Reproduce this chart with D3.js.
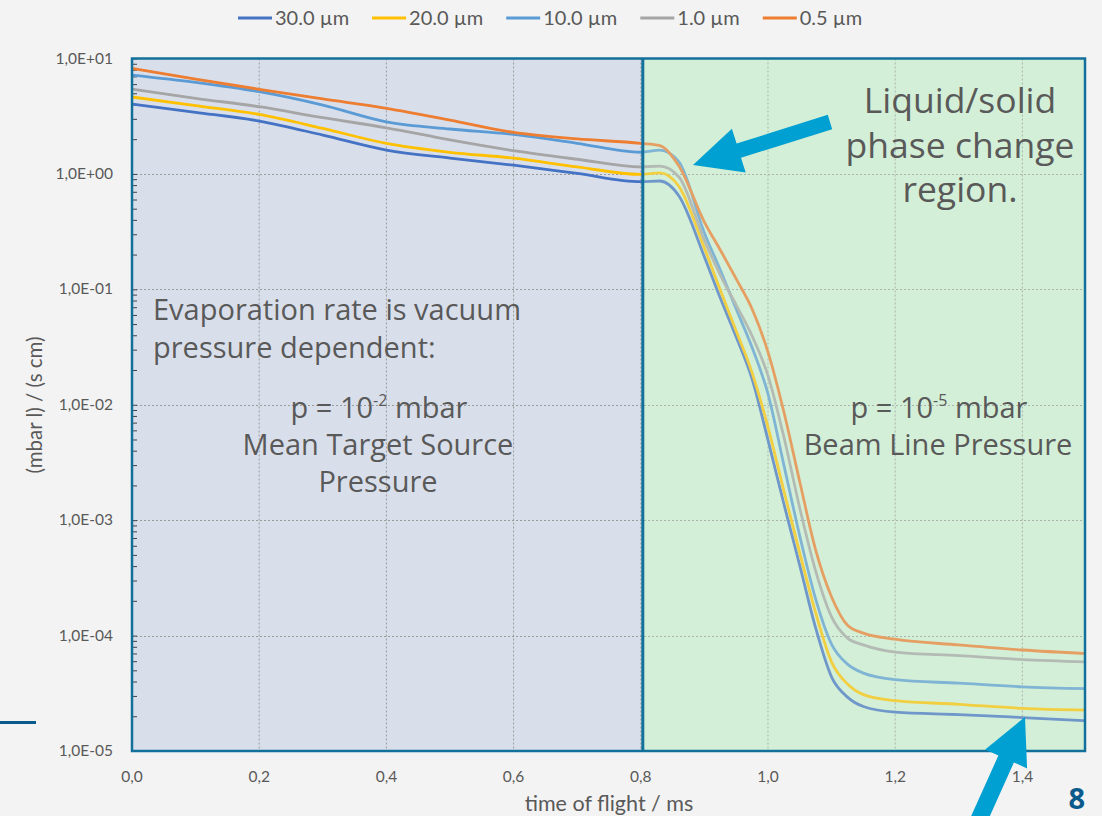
<!DOCTYPE html>
<html>
<head>
<meta charset="utf-8">
<script src="https://cdn.jsdelivr.net/npm/d3@7"></script>
<style>
  html, body { margin: 0; padding: 0; background: #f3f3f3; }
  svg { display: block; }
</style>
</head>
<body>
<svg id="chart" width="1102" height="816"></svg>
<script>
// Time of flight grid (ms)
const timeMs = [0, 0.1, 0.2, 0.3, 0.4, 0.5, 0.6, 0.7, 0.8, 0.83, 0.86, 0.9, 0.925, 0.95, 0.975,
                1.0, 1.025, 1.05, 1.075, 1.1, 1.125, 1.15, 1.2, 1.3, 1.4, 1.5];

// Evaporation rate, (mbar l) / (s cm), per droplet diameter
const rate30um = [4.03, 3.42, 2.87, 2.17, 1.61, 1.37, 1.19, 1.01, 0.856, 0.868, 0.643, 0.191, 0.0841, 0.0386, 0.0167,
                  0.00494, 0.00138, 4.04e-4, 1.16e-4, 4.37e-5, 2.93e-5, 2.43e-5, 2.17e-5, 2.07e-5, 1.95e-5, 1.83e-5];
const rate20um = [4.64, 3.90, 3.28, 2.48, 1.84, 1.54, 1.37, 1.15, 0.99, 1.02, 0.778, 0.228, 0.0986, 0.0435, 0.0189,
                  0.00641, 0.00179, 5.19e-4, 1.57e-4, 5.89e-5, 3.8e-5, 3.08e-5, 2.73e-5, 2.54e-5, 2.34e-5, 2.26e-5];
const rate10um = [7.19, 6.22, 5.16, 3.95, 2.83, 2.45, 2.20, 1.84, 1.54, 1.61, 1.27, 0.308, 0.147, 0.0675, 0.0313,
                  0.0124, 0.0030, 7.28e-4, 2.07e-4, 8.4e-5, 5.66e-5, 4.73e-5, 4.16e-5, 3.87e-5, 3.6e-5, 3.47e-5];
const rate1um  = [5.44, 4.52, 3.82, 3.07, 2.51, 1.97, 1.59, 1.34, 1.15, 1.17, 0.94, 0.267, 0.133, 0.0731, 0.0394,
                  0.0179, 0.00525, 0.00127, 3.62e-4, 1.45e-4, 9.5e-5, 8.3e-5, 7.2e-5, 6.7e-5, 6.2e-5, 5.93e-5];
const rate05um = [8.22, 6.64, 5.41, 4.46, 3.70, 2.93, 2.29, 2.01, 1.84, 1.76, 1.17, 0.383, 0.219, 0.123, 0.0675,
                  0.0286, 0.00865, 0.00214, 5.5e-4, 2.16e-4, 1.23e-4, 1.05e-4, 9.3e-5, 8.3e-5, 7.5e-5, 6.98e-5];

const seriesNames  = ["30.0 µm", "20.0 µm", "10.0 µm", "1.0 µm", "0.5 µm"];
const seriesValues = [rate30um, rate20um, rate10um, rate1um, rate05um];
const seriesColors = ["#4472C4", "#FFC000", "#5B9BD5", "#A5A5A5", "#ED7D31"];

const xTickValues = [0, 0.2, 0.4, 0.6, 0.8, 1.0, 1.2, 1.4];
const xTickLabels = ["0,0", "0,2", "0,4", "0,6", "0,8", "1,0", "1,2", "1,4"];
const yTickValues = [1e-5, 1e-4, 1e-3, 1e-2, 1e-1, 1e0, 1e1];
const yTickLabels = ["1,0E-05", "1,0E-04", "1,0E-03", "1,0E-02", "1,0E-01", "1,0E+00", "1,0E+01"];

const phaseBoundary = 0.8;   // ms, droplet leaves the target source
const xDomain = [0, 1.5];
const yDomain = [1e-5, 10];

// ---------------------------------------------------------------
const svg = d3.select("#chart");
const W = 1102, H = 816;
const plot = { left: 132, right: 1086, top: 58.5, bottom: 751 };
const textColor = "#595959";
const frameColor = "#13709a";
const tickFont = "Lato, 'Open Sans', sans-serif";
const noteFont = "'Open Sans', 'Noto Sans', sans-serif";

svg.append("rect").attr("width", W).attr("height", H).attr("fill", "#f3f3f3");

const x = d3.scaleLinear().domain(xDomain).range([plot.left, plot.right]);
const y = d3.scaleLog().domain(yDomain).range([plot.bottom, plot.top]);

const xSplit = x(phaseBoundary) + 2;

// Region backgrounds
svg.append("rect")
  .attr("x", plot.left).attr("y", plot.top)
  .attr("width", xSplit - plot.left).attr("height", plot.bottom - plot.top)
  .attr("fill", "#d9dfea");
svg.append("rect")
  .attr("x", xSplit).attr("y", plot.top)
  .attr("width", plot.right - xSplit).attr("height", plot.bottom - plot.top)
  .attr("fill", "#d4f0d7");

// Dotted grid
const grid = svg.append("g").attr("stroke", "#9a9a9a").attr("stroke-width", 1)
  .attr("stroke-dasharray", "2,2");
grid.selectAll("line.v").data(xTickValues.filter(v => v > 0)).join("line")
  .attr("x1", d => x(d)).attr("x2", d => x(d))
  .attr("y1", plot.top).attr("y2", plot.bottom);
grid.selectAll("line.h").data(yTickValues.filter(v => v > yDomain[0] && v < yDomain[1])).join("line")
  .attr("x1", plot.left).attr("x2", plot.right)
  .attr("y1", d => Math.round(y(d)) + 0.5).attr("y2", d => Math.round(y(d)) + 0.5);

// Y axis ticks (major + log minor), pointing into the plot
const yAxis = d3.axisRight(y)
  .tickValues(d3.range(-5, 1).flatMap(e => d3.range(1, 10).map(k => k * Math.pow(10, e))).concat([10]))
  .tickSize(5).tickFormat("");
const yAxisG = svg.append("g").attr("transform", `translate(${plot.left},0)`).call(yAxis);
yAxisG.select(".domain").remove();
yAxisG.selectAll(".tick line").attr("stroke", "#404040");

// Series lines
const line = d3.line()
  .x((d, i) => x(timeMs[i]))
  .y(d => y(d))
  .curve(d3.curveMonotoneX);

const linesG = svg.append("g");
seriesValues.forEach((vals, s) => {
  linesG.append("path")
    .datum(vals)
    .attr("d", line)
    .attr("fill", "none")
    .attr("stroke", seriesColors[s])
    .attr("stroke-width", 2.8)
    .attr("stroke-linejoin", "round");
});

// Translucent tint over the beam line region
svg.append("rect")
  .attr("x", xSplit).attr("y", plot.top)
  .attr("width", plot.right - xSplit).attr("height", plot.bottom - plot.top)
  .attr("fill", "#d4f0d7").attr("opacity", 0.3);

// Frame and region divider
svg.append("rect")
  .attr("x", plot.left).attr("y", plot.top)
  .attr("width", plot.right - plot.left - 1).attr("height", plot.bottom - plot.top)
  .attr("fill", "none").attr("stroke", frameColor).attr("stroke-width", 2.5);
svg.append("line")
  .attr("x1", xSplit).attr("x2", xSplit)
  .attr("y1", plot.top).attr("y2", plot.bottom)
  .attr("stroke", frameColor).attr("stroke-width", 3);

// Tick labels
svg.append("g").selectAll("text").data(yTickValues).join("text")
  .attr("x", 113).attr("y", d => y(d) + 5)
  .attr("text-anchor", "end")
  .attr("font-family", tickFont).attr("font-size", 15.5).attr("fill", textColor)
  .text((d, i) => yTickLabels[i]);
svg.append("g").selectAll("text").data(xTickValues).join("text")
  .attr("x", d => x(d)).attr("y", 782)
  .attr("text-anchor", "middle")
  .attr("font-family", tickFont).attr("font-size", 15.5).attr("fill", textColor)
  .text((d, i) => xTickLabels[i]);

// Axis titles
svg.append("text")
  .attr("x", 609).attr("y", 811)
  .attr("text-anchor", "middle")
  .attr("font-family", tickFont).attr("font-size", 21.5).attr("fill", textColor)
  .text("time of flight / ms");
svg.append("text")
  .attr("transform", "translate(42,405) rotate(-90)")
  .attr("text-anchor", "middle")
  .attr("font-family", tickFont).attr("font-size", 20.5).attr("fill", textColor)
  .text("(mbar l) / (s cm)");

// Legend
const legend = svg.append("g").attr("font-family", tickFont).attr("font-size", 20).attr("fill", textColor);
let lx = 238;
seriesNames.forEach((name, s) => {
  legend.append("line")
    .attr("x1", lx).attr("x2", lx + 34).attr("y1", 18).attr("y2", 18)
    .attr("stroke", seriesColors[s]).attr("stroke-width", 2.8);
  const t = legend.append("text").attr("x", lx + 37).attr("y", 25).text(name);
  lx += 37 + t.node().getComputedTextLength() + 23;
});

// Annotation text
const notes = svg.append("g").attr("font-family", noteFont).attr("fill", textColor);
function noteLines(lines, xPos, y0, dy, size, anchor) {
  lines.forEach((ln, i) => {
    notes.append("text").attr("x", xPos).attr("y", y0 + i * dy)
      .attr("font-size", size).attr("text-anchor", anchor).text(ln);
  });
}
noteLines(["Liquid/solid", "phase change", "region."], 960, 113, 44.5, 35.5, "middle");
noteLines(["Evaporation rate is vacuum", "pressure dependent:"], 153, 320, 38, 29, "start");

function pressureLine(xPos, yPos, exp) {
  const t = notes.append("text").attr("x", xPos).attr("y", yPos)
    .attr("font-size", 29).attr("text-anchor", "middle");
  t.append("tspan").text("p = 10");
  t.append("tspan").attr("dy", -12).attr("font-size", 16).text(exp);
  t.append("tspan").attr("dy", 12).text(" mbar");
}
pressureLine(379, 418, "-2");
noteLines(["Mean Target Source", "Pressure"], 378, 455, 37, 29, "middle");
pressureLine(939, 418, "-5");
noteLines(["Beam Line Pressure"], 938, 455, 37, 29, "middle");

// Pointer arrows
function arrowPath(tail, tip, shaftW, headL, headW) {
  const dx = tip[0] - tail[0], dy = tip[1] - tail[1];
  const len = Math.hypot(dx, dy);
  const ux = dx / len, uy = dy / len, nx = -uy, ny = ux;
  const bx = tip[0] - ux * headL, by = tip[1] - uy * headL;
  const p = (px, py) => `${px.toFixed(1)},${py.toFixed(1)}`;
  return "M" + [
    p(tail[0] + nx * shaftW / 2, tail[1] + ny * shaftW / 2),
    p(bx + nx * shaftW / 2, by + ny * shaftW / 2),
    p(bx + nx * headW / 2, by + ny * headW / 2),
    p(tip[0], tip[1]),
    p(bx - nx * headW / 2, by - ny * headW / 2),
    p(bx - nx * shaftW / 2, by - ny * shaftW / 2),
    p(tail[0] - nx * shaftW / 2, tail[1] - ny * shaftW / 2)
  ].join("L") + "Z";
}
svg.append("path").attr("d", arrowPath([830, 122], [693, 165], 15, 48, 46)).attr("fill", "#00a0d2");
svg.append("path").attr("d", arrowPath([972, 835], [1025, 717], 17, 46, 46)).attr("fill", "#00a0d2");

// Page furniture
svg.append("line").attr("x1", 0).attr("x2", 36).attr("y1", 722.5).attr("y2", 722.5)
  .attr("stroke", "#0b5a8c").attr("stroke-width", 3);
svg.append("text").attr("x", 1085).attr("y", 809)
  .attr("text-anchor", "end").attr("font-family", noteFont).attr("font-weight", "bold")
  .attr("font-size", 29).attr("fill", "#0b5a8c").text("8");
</script>
</body>
</html>
